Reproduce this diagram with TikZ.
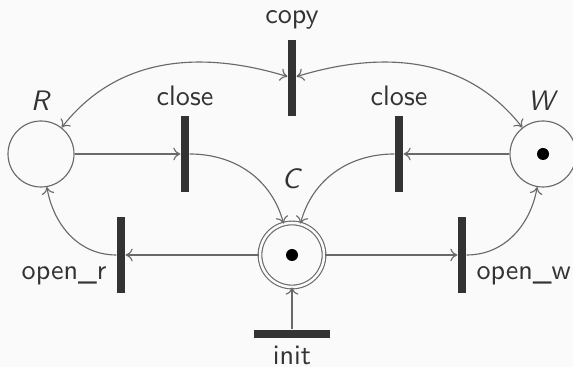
\documentclass[tikz,border=0pt]{standalone}
\usepackage{tikz}
\usetikzlibrary{arrows.meta}

\definecolor{bg}{RGB}{250,250,250}
\definecolor{ink}{RGB}{51,51,51}
\definecolor{wire}{RGB}{105,105,105}

\begin{document}
\begin{tikzpicture}[x=0.0125cm, y=0.0125cm, font=\sffamily, text=ink,
  place/.style = {draw=wire, thin, circle, minimum size=0.825cm, inner sep=0pt},
  trans/.style = {fill=ink, inner sep=0pt, minimum width=0.1cm, minimum height=0.95cm},
  htrans/.style = {trans, minimum width=0.95cm, minimum height=0.1cm},
  arc/.style = {draw=wire, thin, -{To[length=2.5pt,width=4.5pt]}},
  biarc/.style = {arc, {To[length=2.5pt,width=4.5pt]}-{To[length=2.5pt,width=4.5pt]}}]
\fill[bg] (0,0) rectangle (573,367);
\useasboundingbox (0,0) rectangle (573,367);

% places
\node[place] (R) at (41,213) [label=above:\textit{R}] {};
\node[place] (W) at (543,213) [label=above:\textit{W}] {};
\node[place, double=bg, double distance=0.9pt, minimum size=0.8cm] (C) at (292,112)
  [label={[label distance=0.3cm]above:\textit{C}}] {};
\fill[black] (W) circle (0.075cm);
\fill[black] (C) circle (0.075cm);

% transitions
\node[trans] (copy) at (292,289) [label=above:copy] {};
\node[trans] (closeR) at (185,213) [label=above:close] {};
\node[trans] (closeW) at (399,213) [label=above:close] {};
\node[trans] (openR) at (121,112) [label={[yshift=-0.26cm]left:open\_r}] {};
\node[trans] (openW) at (462,112) [label={[yshift=-0.26cm]right:open\_w}] {};
\node[htrans] (init) at (292,33) [label={[label distance=-1pt]below:init}] {};

% arcs
\draw[arc] (init) -- (C);
\draw[arc] (C) -- (openR);
\draw[arc] (C) -- (openW);
\draw[arc] (openR) to[out=180, in=-80] (R);
\draw[arc] (openW) to[out=0, in=-100] (W);
\draw[arc] (R) -- (closeR);
\draw[arc] (W) -- (closeW);
\draw[arc] (closeR) to[out=0, in=105] (C);
\draw[arc] (closeW) to[out=180, in=75] (C);
\draw[biarc] (R) to[out=52, in=163] (copy);
\draw[biarc] (W) to[out=128, in=17] (copy);
\end{tikzpicture}
\end{document}
